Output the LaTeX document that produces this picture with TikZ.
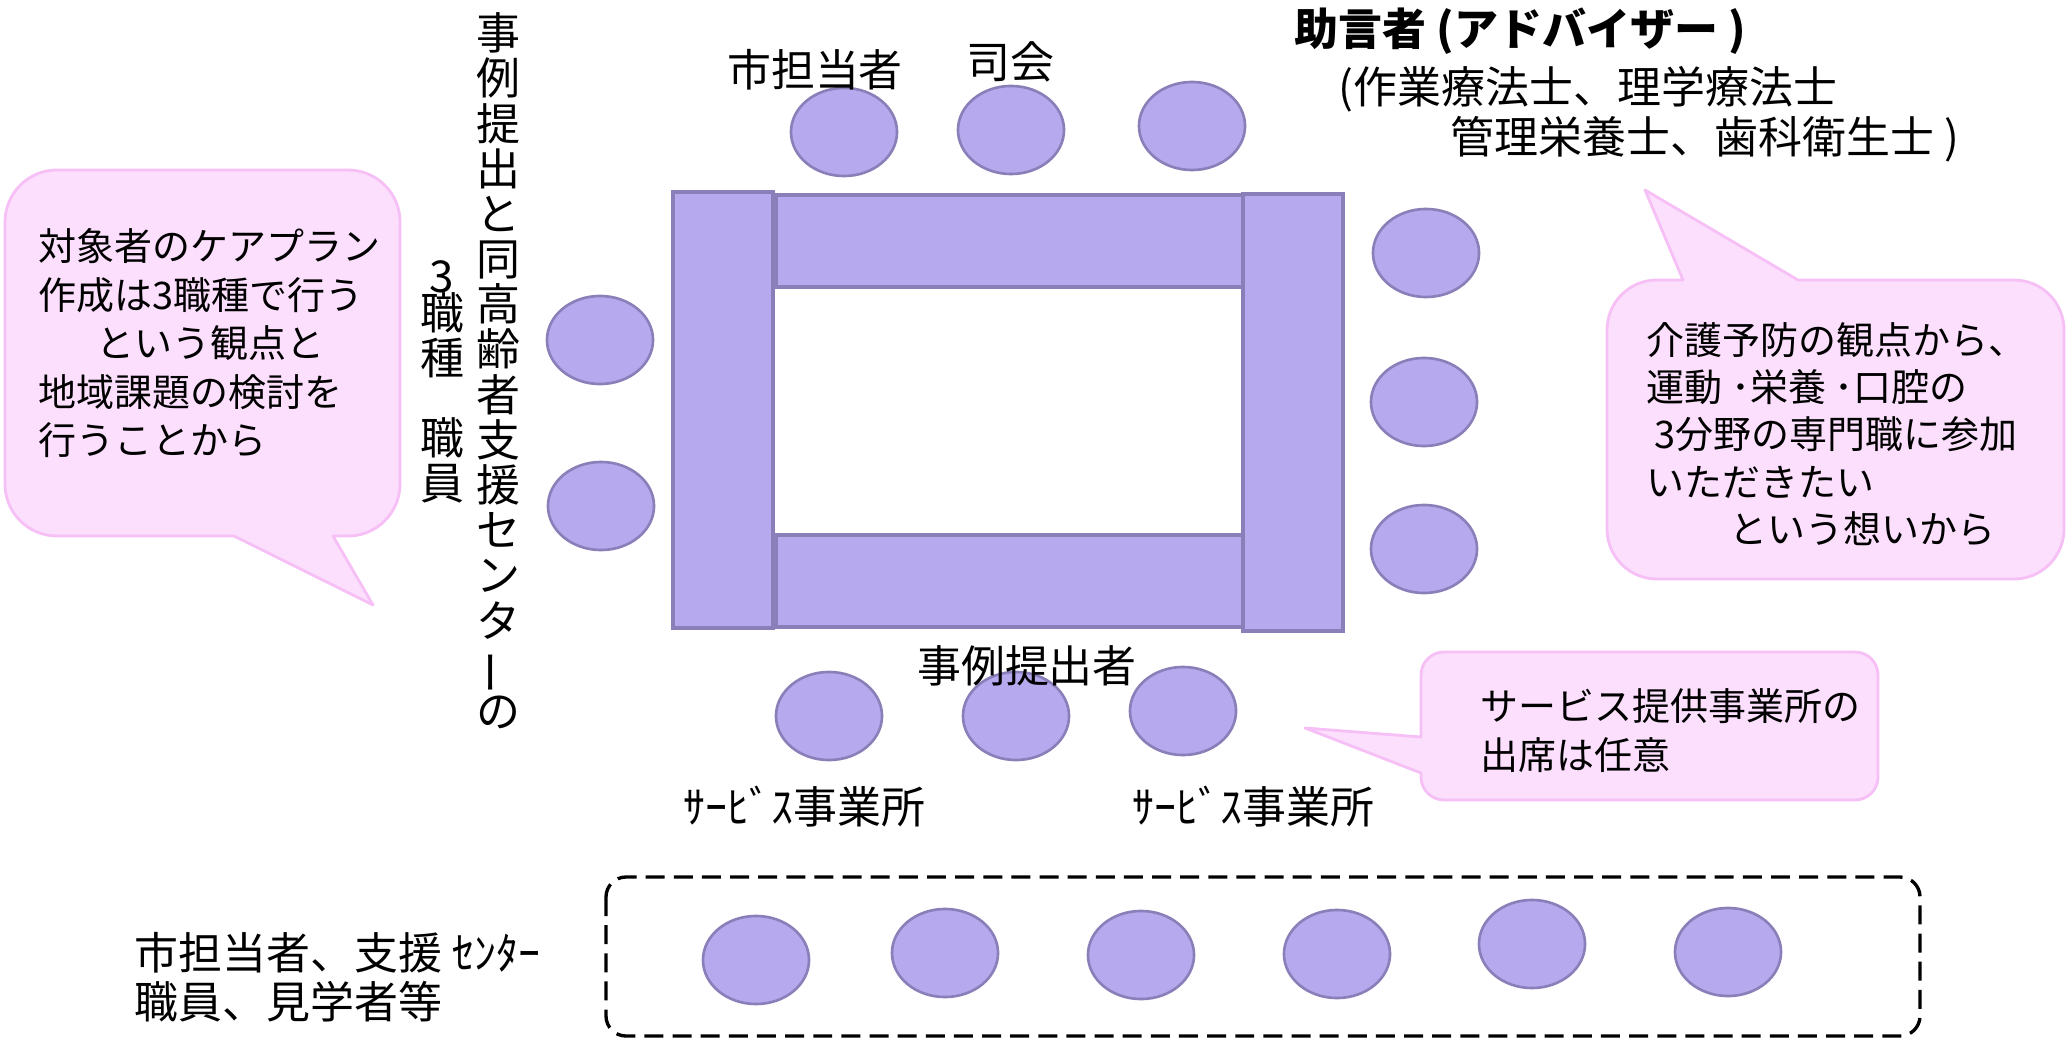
\documentclass[tikz,border=0pt]{standalone}
\usepackage{fontspec}
\usepackage{graphicx}
\setmainfont{Noto Sans CJK JP}
\usetikzlibrary{shapes.geometric}
\definecolor{seatfill}{RGB}{183,169,237}
\definecolor{seatline}{RGB}{139,127,185}
\definecolor{bubfill}{RGB}{251,223,252}
\definecolor{bubline}{RGB}{246,192,246}
\begin{document}
\begin{tikzpicture}[x=0.01cm,y=-0.01cm,
  seat/.style={ellipse,draw=seatline,fill=seatfill,line width=0.75pt,minimum width=1.06cm,minimum height=0.88cm,inner sep=0pt},
  tablebar/.style={draw=seatline,fill=seatfill,line width=0.9pt},
  bubble/.style={draw=bubline,fill=bubfill,line width=0.8pt,line join=round},
  big/.style={font=\fontsize{12.5pt}{15pt}\selectfont,inner sep=0pt},
  small/.style={font=\fontsize{10.8pt}{13.8pt}\selectfont,inner sep=0pt,align=left},
]
\useasboundingbox (0,0) rectangle (2067,1040);

% table
\draw[tablebar] (673,192) rectangle (773,628);
\draw[tablebar] (776,195) rectangle (1243,287);
\draw[tablebar] (776,535) rectangle (1243,627);
\draw[tablebar] (1243,194) rectangle (1343,631);

% seats
\node[seat] (t1) at (844,132) {};
\node[seat] (t2) at (1011,130) {};
\node[seat] (t3) at (1192,126) {};
\node[seat] (l1) at (600,340) {};
\node[seat] (l2) at (601,506) {};
\node[seat] (r1) at (1426,253) {};
\node[seat] (r2) at (1424,402) {};
\node[seat] (r3) at (1424,549) {};
\node[seat] (b1) at (829,716) {};
\node[seat] (b2) at (1016,716) {};
\node[seat] (b3) at (1183,711) {};

% observers
\draw[line width=0.95pt,dash pattern=on 5.4pt off 2.6pt,rounded corners=0.2cm] (606,877) rectangle (1920,1036);
\node[seat] (o1) at (756,960) {};
\node[seat] (o2) at (945,953) {};
\node[seat] (o3) at (1141,955) {};
\node[seat] (o4) at (1337,954) {};
\node[seat] (o5) at (1532,944) {};
\node[seat] (o6) at (1728,952) {};

% bubbles
\draw[bubble] (57,170) -- (348,170) arc[start angle=90,end angle=0,radius=0.52cm]
  -- (400,484) arc[start angle=0,end angle=-90,radius=0.52cm]
  -- (333,536) -- (373,605) -- (234,536)
  -- (57,536) arc[start angle=270,end angle=180,radius=0.52cm]
  -- (5,222) arc[start angle=180,end angle=90,radius=0.52cm] -- cycle;
\draw[bubble] (1657,280) -- (1683,280) -- (1645,190) -- (1798,280)
  -- (2014,280) arc[start angle=90,end angle=0,radius=0.5cm]
  -- (2064,529) arc[start angle=0,end angle=-90,radius=0.5cm]
  -- (1657,579) arc[start angle=270,end angle=180,radius=0.5cm]
  -- (1607,330) arc[start angle=180,end angle=90,radius=0.5cm] -- cycle;
\draw[bubble] (1444,652) -- (1855,652) arc[start angle=90,end angle=0,radius=0.23cm]
  -- (1878,777) arc[start angle=0,end angle=-90,radius=0.23cm]
  -- (1444,800) arc[start angle=270,end angle=180,radius=0.23cm]
  -- (1421,773) -- (1305,728) -- (1421,737)
  -- (1421,675) arc[start angle=180,end angle=90,radius=0.23cm] -- cycle;

% bubble texts
\node[small,anchor=north west] (noteL) at (38,228) {対象者のケアプラン\\作成は3職種で行う\\\hspace*{16.5pt}という観点と\\地域課題の検討を\\行うことから};
\node[small,anchor=north west,font=\fontsize{10.8pt}{13.4pt}\selectfont] (noteR) at (1646,322) {介護予防の観点から、\\運動 ･栄養 ･口腔の\\\hspace*{2.3pt}3分野の専門職に参加\\いただきたい\\\hspace*{23.6pt}という想いから};
\node[small,anchor=north west,font=\fontsize{10.8pt}{14pt}\selectfont] (noteS) at (1480,688) {サービス提供事業所の\\出席は任意};

% labels
\node[big] (lblcity) at (815,70) {市担当者};
\node[big] (lblmc) at (1010,62) {司会};
\node[big,anchor=west,font=\fontsize{12.5pt}{15pt}\selectfont\bfseries] (adv) at (1294,31) {助言者 (アドバイザー )};
\node[big,anchor=west] (advA) at (1338,89) {(作業療法士、理学療法士};
\node[big,anchor=west] (advB) at (1450,139) {管理栄養士、歯科衛生士 )};
\node[big] (presenter) at (1027,666) {事例提出者};
\node[big,anchor=west] (svc1) at (683,807) {ｻｰﾋﾞｽ事業所};
\node[big,anchor=west] (svc2) at (1132,807) {ｻｰﾋﾞｽ事業所};
\node[big,anchor=west,align=left,font=\fontsize{12.5pt}{13.9pt}\selectfont] (obs) at (134,977) {市担当者、支援 ｾﾝﾀｰ\\職員、見学者等};
\node[big,anchor=north,align=center,font=\fontsize{12.5pt}{12.85pt}\selectfont] (vcol) at (498,12) {事\\例\\提\\出\\と\\同\\高\\齢\\者\\支\\援\\セ\\ン\\タ\\\rotatebox[origin=c]{90}{ー}\\の};
\node[big,anchor=north,align=center,font=\fontsize{12.5pt}{12.8pt}\selectfont] (staff) at (442,260) {3\\[-2.3pt]職\\種\\[10pt]職\\員};
\end{tikzpicture}
\end{document}
